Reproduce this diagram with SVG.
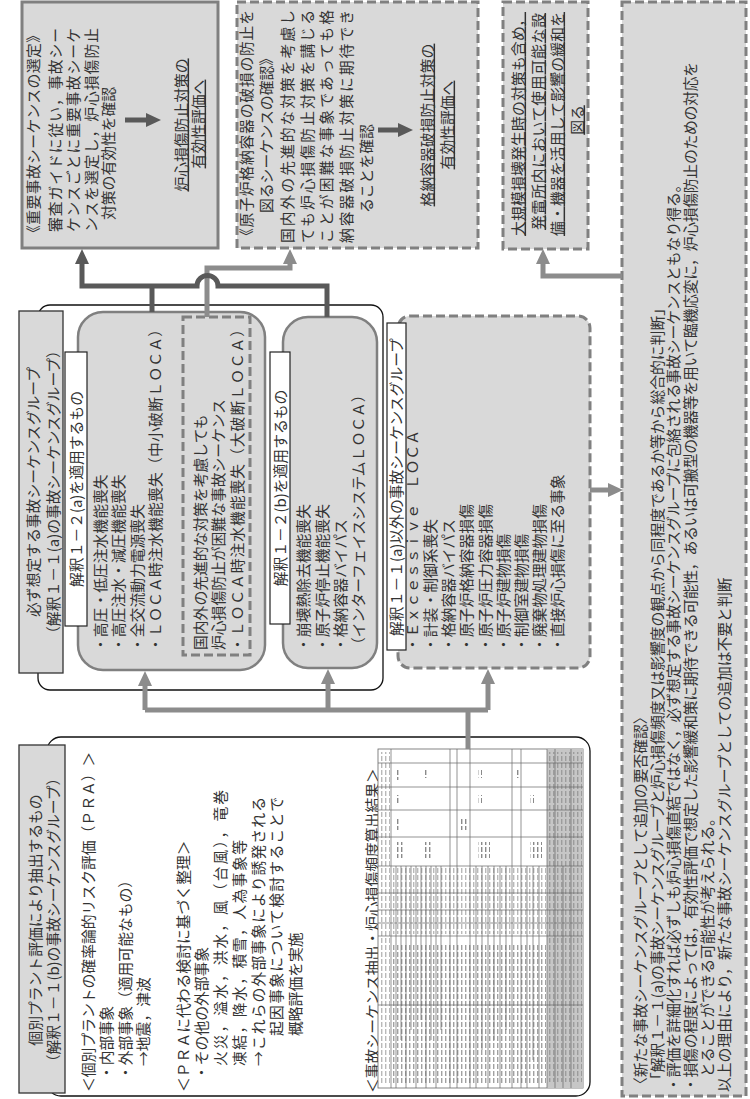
<svg xmlns="http://www.w3.org/2000/svg" width="750" height="1099" viewBox="0 0 750 1099">
<style>
.t{font-family:"Noto Sans CJK JP","Noto Sans CJK SC",sans-serif;font-size:14.8px;fill:#333}
.m{text-anchor:middle}
.u{text-decoration:underline}
.gb{fill:#d9d9d9;stroke:#808080;stroke-width:3}
.db{fill:#d9d9d9;stroke:#808080;stroke-width:3;stroke-dasharray:9 4}
.ddb{fill:none;stroke:#808080;stroke-width:3;stroke-dasharray:9 4}
.rb{fill:#d9d9d9;stroke:#808080;stroke-width:2.5}
.ob{fill:none;stroke:#111;stroke-width:1.3}
.hd{fill:#d9d9d9;stroke:#333;stroke-width:1.3}
.lb{fill:#fff;stroke:#222;stroke-width:1.2}
.cl{fill:none;stroke:#8c8c8c;stroke-width:5}
.cd{fill:none;stroke:#595959;stroke-width:5}
.tl{stroke:#666;stroke-width:0.7}
</style>
<defs>
<marker id="hl" markerUnits="userSpaceOnUse" markerWidth="15" markerHeight="14" viewBox="0 0 15 14" refX="0" refY="7" orient="auto"><path d="M0,0 L15,7 L0,14 z" fill="#8c8c8c"/></marker>
<marker id="hd" markerUnits="userSpaceOnUse" markerWidth="15" markerHeight="14" viewBox="0 0 15 14" refX="0" refY="7" orient="auto"><path d="M0,0 L15,7 L0,14 z" fill="#595959"/></marker>
<pattern id="txt" width="4" height="7" patternUnits="userSpaceOnUse"><rect x="1" y="0" width="1.4" height="5" fill="#8a8a8a"/></pattern>
</defs>

<g id="box1">
<rect class="gb" x="22" y="2" width="196" height="246"/>
<text class="t" x="38.6" y="240" transform="rotate(-90 38.6 240)" textLength="212">《重要事故シーケンスの選定》</text>
<text class="t" x="60.6" y="232" transform="rotate(-90 60.6 232)" textLength="204">審査ガイドに従い，事故シー</text>
<text class="t" x="78.6" y="232" transform="rotate(-90 78.6 232)" textLength="204">ケンスごとに重要事故シーケ</text>
<text class="t" x="96.6" y="232" transform="rotate(-90 96.6 232)" textLength="204">ンスを選定し，炉心損傷防止</text>
<text class="t" x="113.6" y="220" transform="rotate(-90 113.6 220)">対策の有効性を確認</text>
<path class="cd" d="M125,120 H146" marker-end="url(#hd)"/>
<text class="t m u" x="186.6" y="125" transform="rotate(-90 186.6 125)">炉心損傷防止対策の</text>
<text class="t m u" x="203.6" y="124" transform="rotate(-90 203.6 124)">有効性評価へ</text>
</g>

<g id="box2">
<rect class="db" x="237" y="2" width="241" height="246"/>
<text class="t" x="251.6" y="243" transform="rotate(-90 251.6 243)" textLength="233">《原子炉格納容器の破損の防止を</text>
<text class="t" x="271.6" y="213" transform="rotate(-90 271.6 213)">図るシーケンスの確認》</text>
<text class="t" x="292.6" y="243" transform="rotate(-90 292.6 243)" textLength="233">国内外の先進的な対策を考慮し</text>
<text class="t" x="312.6" y="243" transform="rotate(-90 312.6 243)" textLength="233">ても炉心損傷防止対策を講じる</text>
<text class="t" x="331.6" y="243" transform="rotate(-90 331.6 243)" textLength="233">ことが困難な事象であっても格</text>
<text class="t" x="351.6" y="243" transform="rotate(-90 351.6 243)" textLength="233">納容器破損防止対策に期待でき</text>
<text class="t" x="371.6" y="213" transform="rotate(-90 371.6 213)">ることを確認</text>
<path class="cd" d="M378,130 H398" marker-end="url(#hd)"/>
<text class="t m u" x="432.6" y="125" transform="rotate(-90 432.6 125)">格納容器破損防止対策の</text>
<text class="t m u" x="452.6" y="125" transform="rotate(-90 452.6 125)">有効性評価へ</text>
</g>

<g id="box3">
<rect class="db" x="503" y="2" width="85" height="247"/>
<text class="t u" x="523.6" y="236" transform="rotate(-90 523.6 236)" textLength="224">大規模損壊発生時の対策も含め，</text>
<text class="t u" x="543.6" y="230" transform="rotate(-90 543.6 230)" textLength="217">発電所内において使用可能な設</text>
<text class="t u" x="562.6" y="236" transform="rotate(-90 562.6 236)" textLength="224">備・機器を活用して影響の緩和を</text>
<text class="t m u" x="582.6" y="120" transform="rotate(-90 582.6 120)">図る</text>
</g>

<g id="box4">
<rect class="db" x="622" y="2" width="124" height="1094"/>
<text class="t" x="645.6" y="1092" transform="rotate(-90 645.6 1092)">〈新たな事故シーケンスグループとして追加の要否確認〉</text>
<text class="t" x="662.6" y="1087" transform="rotate(-90 662.6 1087)">「解釈１－１(a)の事故シーケンスグループと炉心損傷頻度又は影響度の観点から同程度であるか等から総合的に判断」</text>
<text class="t" x="679.1" y="1092" transform="rotate(-90 679.1 1092)">・評価を詳細化すれば必ずしも炉心損傷直結ではなく，必ず想定する事故シーケンスグループに包絡される事故シーケンスともなり得る。</text>
<text class="t" x="696.1" y="1092" transform="rotate(-90 696.1 1092)" textLength="1030">・損傷の程度によっては，有効性評価で想定した影響緩和策に期待できる可能性，あるいは可搬型の機器等を用いて臨機応変に，炉心損傷防止のための対応を</text>
<text class="t" x="712.6" y="1077" transform="rotate(-90 712.6 1077)">とることができる可能性が考えられる。</text>
<text class="t" x="729.6" y="1092" transform="rotate(-90 729.6 1092)">以上の理由により，新たな事故シーケンスグループとしての追加は不要と判断</text>
</g>

<g id="groupA">
<rect class="ob" x="38" y="305" width="345" height="385" rx="12"/>
<rect class="hd" x="19" y="311" width="44" height="362"/>
<text class="t m" x="38.6" y="492" transform="rotate(-90 38.6 492)">必ず想定する事故シーケンスグループ</text>
<text class="t m" x="58.6" y="492" transform="rotate(-90 58.6 492)">（解釈１－１(a)の事故シーケンスグループ）</text>
</g>

<g id="boxA">
<rect class="rb" x="78" y="312" width="187" height="358" rx="25"/>
<rect class="lb" x="65" y="352" width="22" height="274"/>
<text class="t m" x="81.6" y="489" transform="rotate(-90 81.6 489)">解釈１－２(a)を適用するもの</text>
<text class="t" x="105.6" y="652" transform="rotate(-90 105.6 652)">・高圧・低圧注水機能喪失</text>
<text class="t" x="123.6" y="652" transform="rotate(-90 123.6 652)">・高圧注水・減圧機能喪失</text>
<text class="t" x="142.6" y="652" transform="rotate(-90 142.6 652)">・全交流動力電源喪失</text>
<text class="t" x="160.6" y="652" transform="rotate(-90 160.6 652)" textLength="330">・ＬＯＣＡ時注水機能喪失（中小破断ＬＯＣＡ）</text>
</g>

<g id="boxA2">
<rect class="ddb" x="183" y="317" width="67" height="338"/>
<text class="t" x="205.6" y="650" transform="rotate(-90 205.6 650)">国内外の先進的な対策を考慮しても</text>
<text class="t" x="223.6" y="650" transform="rotate(-90 223.6 650)">炉心損傷防止が困難な事故シーケンス</text>
<text class="t" x="242.6" y="652" transform="rotate(-90 242.6 652)" textLength="330">・ＬＯＣＡ時注水機能喪失（大破断ＬＯＣＡ）</text>
</g>

<g id="boxB">
<rect class="rb" x="283" y="317" width="94" height="351" rx="25"/>
<rect class="lb" x="270" y="352" width="20" height="272"/>
<text class="t m" x="285.6" y="488" transform="rotate(-90 285.6 488)">解釈１－２(b)を適用するもの</text>
<text class="t" x="308.6" y="652" transform="rotate(-90 308.6 652)">・崩壊熱除去機能喪失</text>
<text class="t" x="327.6" y="652" transform="rotate(-90 327.6 652)">・原子炉停止機能喪失</text>
<text class="t" x="345.6" y="652" transform="rotate(-90 345.6 652)">・格納容器バイパス</text>
<text class="t" x="363.6" y="652" transform="rotate(-90 363.6 652)">（インターフェイスシステムＬＯＣＡ）</text>
</g>

<g id="boxC">
<rect class="db" x="398" y="316" width="192" height="352" rx="12"/>
<rect class="lb" x="387" y="323" width="19" height="327"/>
<text class="t m" x="401.6" y="487" transform="rotate(-90 401.6 487)">解釈１－１(a)以外の事故シーケンスグループ</text>
<text class="t" x="417.6" y="652" transform="rotate(-90 417.6 652)">・Ｅｘｃｅｓｓｉｖｅ　ＬＯＣＡ</text>
<text class="t" x="435.6" y="652" transform="rotate(-90 435.6 652)">・計装・制御系喪失</text>
<text class="t" x="454.1" y="652" transform="rotate(-90 454.1 652)">・格納容器バイパス</text>
<text class="t" x="472.1" y="652" transform="rotate(-90 472.1 652)">・原子炉格納容器損傷</text>
<text class="t" x="490.6" y="652" transform="rotate(-90 490.6 652)">・原子炉圧力容器損傷</text>
<text class="t" x="508.6" y="652" transform="rotate(-90 508.6 652)">・原子炉建物損傷</text>
<text class="t" x="526.6" y="652" transform="rotate(-90 526.6 652)">・制御室建物損傷</text>
<text class="t" x="544.6" y="652" transform="rotate(-90 544.6 652)">・廃棄物処理建物損傷</text>
<text class="t" x="563.2" y="652" transform="rotate(-90 563.2 652)">・直接炉心損傷に至る事象</text>
</g>

<g id="groupD">
<rect class="ob" x="47" y="737" width="543" height="359" rx="14"/>
<rect class="hd" x="19" y="745" width="46" height="348"/>
<text class="t m" x="40.6" y="920" transform="rotate(-90 40.6 920)">個別プラント評価により抽出するもの</text>
<text class="t m" x="58.6" y="920" transform="rotate(-90 58.6 920)">（解釈１－１(b)の事故シーケンスグループ）</text>
<text class="t" x="93.6" y="1092" transform="rotate(-90 93.6 1092)">＜個別プラントの確率論的リスク評価（ＰＲＡ）＞</text>
<text class="t" x="112.1" y="1080" transform="rotate(-90 112.1 1080)">・内部事象</text>
<text class="t" x="130.6" y="1080" transform="rotate(-90 130.6 1080)">・外部事象（適用可能なもの）</text>
<text class="t" x="149.1" y="1066" transform="rotate(-90 149.1 1066)">→地震，津波</text>
<text class="t" x="188.6" y="1092" transform="rotate(-90 188.6 1092)">＜ＰＲＡに代わる検討に基づく整理＞</text>
<text class="t" x="206.6" y="1080" transform="rotate(-90 206.6 1080)">・その他の外部事象</text>
<text class="t" x="225.6" y="1066" transform="rotate(-90 225.6 1066)" textLength="276">火災，溢水，洪水，風（台風），竜巻</text>
<text class="t" x="244.6" y="1066" transform="rotate(-90 244.6 1066)" textLength="226">凍結，降水，積雪，人為事象等</text>
<text class="t" x="263.6" y="1066" transform="rotate(-90 263.6 1066)" textLength="269">→これらの外部事象により誘発される</text>
<text class="t" x="281.6" y="1036" transform="rotate(-90 281.6 1036)" textLength="239">起因事象について検討することで</text>
<text class="t" x="300.6" y="1036" transform="rotate(-90 300.6 1036)">概略評価を実施</text>
<text class="t" x="377.6" y="1093" transform="rotate(-90 377.6 1093)">＜事故シーケンス抽出・炉心損傷頻度算出結果＞</text>
</g>

<g id="table">
<rect x="378" y="749" width="205" height="339" fill="#fff" stroke="#666" stroke-width="0.8"/>
<rect x="547" y="749" width="36" height="339" fill="#c6c6c6"/>
<rect x="379" y="752" width="11" height="332" fill="url(#txt)" opacity="0.6"/>
<rect x="392" y="945" width="154" height="140" fill="url(#txt)" opacity="0.8"/>
<rect x="392" y="868" width="154" height="66" fill="url(#txt)" opacity="0.6"/>
<rect x="548" y="752" width="34" height="330" fill="url(#txt)" opacity="0.7"/>
<rect x="396" y="770" width="4" height="10" fill="url(#txt)"/>
<rect x="396" y="795" width="4" height="8" fill="url(#txt)"/>
<rect x="396" y="818" width="4" height="12" fill="url(#txt)"/>
<rect x="396" y="842" width="8" height="16" fill="url(#txt)"/>
<rect x="425" y="770" width="4" height="8" fill="url(#txt)"/>
<rect x="425" y="842" width="8" height="16" fill="url(#txt)"/>
<rect x="460" y="818" width="8" height="12" fill="url(#txt)"/>
<rect x="478" y="770" width="4" height="8" fill="url(#txt)"/>
<rect x="478" y="795" width="4" height="8" fill="url(#txt)"/>
<rect x="478" y="842" width="12" height="16" fill="url(#txt)"/>
<rect x="515" y="770" width="4" height="8" fill="url(#txt)"/>
<rect x="530" y="795" width="4" height="8" fill="url(#txt)"/>
<rect x="530" y="842" width="12" height="16" fill="url(#txt)"/>
<g class="tl">
<line x1="378" y1="763" x2="583" y2="763"/>
<line x1="378" y1="787" x2="583" y2="787"/>
<line x1="378" y1="810" x2="583" y2="810"/>
<line x1="378" y1="837" x2="583" y2="837"/>
<line x1="378" y1="866" x2="583" y2="866"/>
<line x1="378" y1="893" x2="583" y2="893"/>
<line x1="378" y1="910" x2="583" y2="910"/>
<line x1="378" y1="923" x2="583" y2="923"/>
<line x1="378" y1="936" x2="583" y2="936"/>
<line x1="378" y1="1005" x2="583" y2="1005"/>
<line x1="391" y1="749" x2="391" y2="1088"/>
<line x1="450" y1="749" x2="450" y2="1088"/>
<line x1="457" y1="749" x2="457" y2="1088"/>
<line x1="470" y1="749" x2="470" y2="1088"/>
<line x1="512" y1="749" x2="512" y2="1088"/>
<line x1="521" y1="749" x2="521" y2="1088"/>
<line x1="547" y1="749" x2="547" y2="1088"/>
<line x1="396" y1="866" x2="396" y2="1088"/>
<line x1="401" y1="866" x2="401" y2="1040"/>
<line x1="406" y1="866" x2="406" y2="1088"/>
<line x1="411" y1="866" x2="411" y2="1030"/>
<line x1="416" y1="866" x2="416" y2="1088"/>
<line x1="421" y1="866" x2="421" y2="1020"/>
<line x1="426" y1="866" x2="426" y2="1088"/>
<line x1="431" y1="866" x2="431" y2="1040"/>
<line x1="436" y1="866" x2="436" y2="1088"/>
<line x1="441" y1="866" x2="441" y2="1030"/>
<line x1="476" y1="866" x2="476" y2="1088"/>
<line x1="482" y1="866" x2="482" y2="1050"/>
<line x1="488" y1="866" x2="488" y2="1088"/>
<line x1="494" y1="866" x2="494" y2="1040"/>
<line x1="500" y1="866" x2="500" y2="1088"/>
<line x1="506" y1="866" x2="506" y2="1030"/>
<line x1="527" y1="866" x2="527" y2="1088"/>
<line x1="533" y1="866" x2="533" y2="1060"/>
<line x1="539" y1="866" x2="539" y2="1088"/>
<line x1="555" y1="749" x2="555" y2="1088"/>
<line x1="563" y1="866" x2="563" y2="1088"/>
<line x1="571" y1="749" x2="571" y2="1088"/>
</g>
</g>

<g id="connectors">
<path class="cl" d="M468,749 V710"/>
<path class="cl" d="M145,710 H488"/>
<path class="cl" d="M145,710 V686" marker-end="url(#hl)"/>
<path class="cl" d="M328,710 V684" marker-end="url(#hl)"/>
<path class="cl" d="M488,710 V684" marker-end="url(#hl)"/>
<path class="cl" d="M590,490 H608" marker-end="url(#hl)"/>
<path class="cl" d="M622,276 H543 V264" marker-end="url(#hl)"/>
<path class="cl" d="M207,317 V268 H290 V264" marker-end="url(#hl)"/>
<path class="cd" d="M152,312 V286"/>
<path class="cd" d="M327,317 V286 H218 A10.5,10.5 0 0 0 197,286 H82 V264" marker-end="url(#hd)"/>
</g>
</svg>
